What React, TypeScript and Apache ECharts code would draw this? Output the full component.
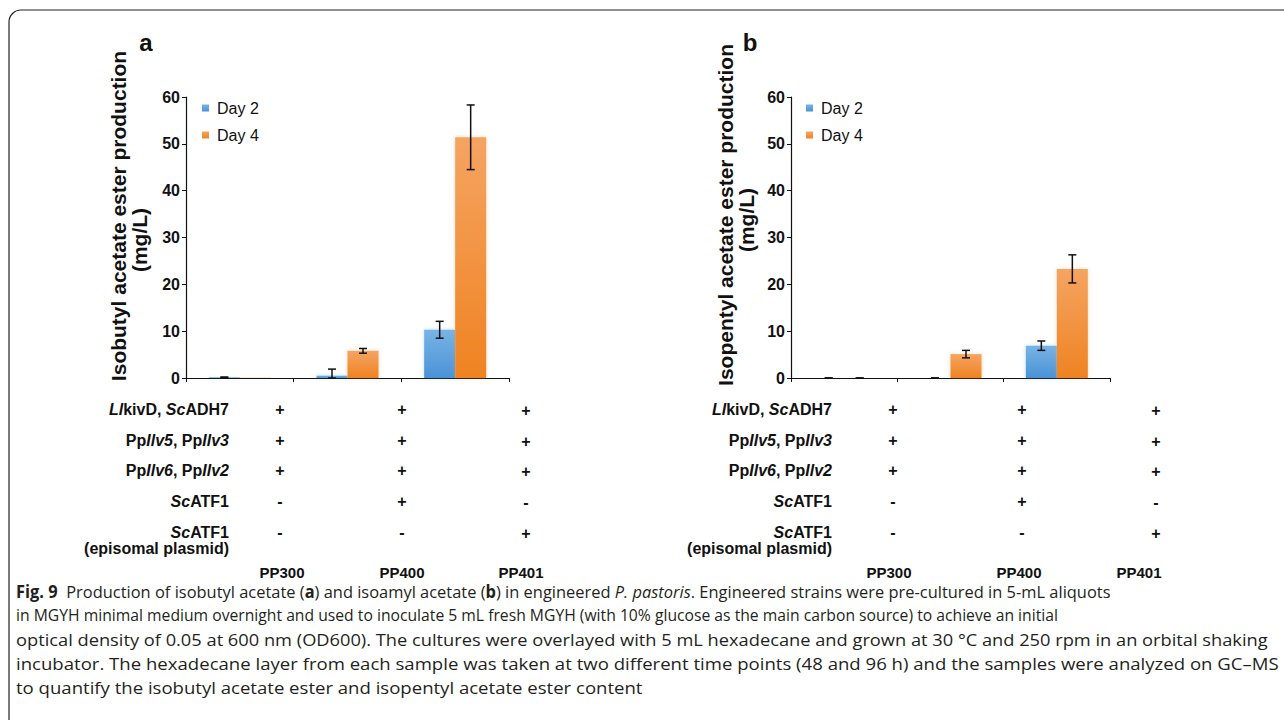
import React, { useEffect, useRef } from "react";
import * as echarts from "echarts";

// ---------- data ----------
const categories = ["PP300", "PP400", "PP401"];
const seriesNames = ["Day 2", "Day 4"];

// panel a: isobutyl acetate ester (mg/L)
const isobutylDay2 = [0.15, 0.5, 10.3];
const isobutylDay2Err = [0.05, 1.4, 1.8];
const isobutylDay4 = [0.05, 5.8, 51.4];
const isobutylDay4Err = [null, 0.5, 6.9];

// panel b: isopentyl acetate ester (mg/L)
const isopentylDay2 = [0, 0, 6.9];
const isopentylDay2Err = [0, 0, 1.0];
const isopentylDay4 = [0, 5.1, 23.3];
const isopentylDay4Err = [0, 0.8, 3.0];

const yTicks = { min: 0, max: 60, interval: 10 };

const rowLabels = [
  "{i|Ll}kivD, {i|Sc}ADH7",
  "Pp{i|Ilv5}, Pp{i|Ilv3}",
  "Pp{i|Ilv6}, Pp{i|Ilv2}",
  "{i|Sc}ATF1",
  "{i|Sc}ATF1",
];
const rowSubLabel = "(episomal plasmid)";
const rowMarks = [
  ["+", "+", "+"],
  ["+", "+", "+"],
  ["+", "+", "+"],
  ["-", "+", "-"],
  ["-", "-", "+"],
];

const yTitleA = "Isobutyl acetate ester production";
const yTitleB = "Isopentyl acetate ester production";
const yUnit = "(mg/L)";

const captionLines = [
  "{b|Fig. 9}  Production of isobutyl acetate ({b|a}) and isoamyl acetate ({b|b}) in engineered {i|P. pastoris}. Engineered strains were pre-cultured in 5-mL aliquots",
  "in MGYH minimal medium overnight and used to inoculate 5 mL fresh MGYH (with 10% glucose as the main carbon source) to achieve an initial",
  "optical density of 0.05 at 600 nm (OD600). The cultures were overlayed with 5 mL hexadecane and grown at 30 °C and 250 rpm in an orbital shaking",
  "incubator. The hexadecane layer from each sample was taken at two different time points (48 and 96 h) and the samples were analyzed on GC–MS",
  "to quantify the isobutyl acetate ester and isopentyl acetate ester content",
];
// horizontal fit of each caption line (style)
const captionScale = [0.967, 0.924, 1.075, 1.093, 1.091];

// ---------- styling ----------
const BAR_W = 31;
const FONT = "Liberation Sans, Arial, Helvetica, sans-serif";
const CAP_FONT = "Open Sans, Noto Sans, sans-serif";
const blueGrad = new echarts.graphic.LinearGradient(0, 0, 0, 1, [
  { offset: 0, color: "#78B4E6" },
  { offset: 1, color: "#4A92D6" },
]);
const orangeGrad = new echarts.graphic.LinearGradient(0, 0, 0, 1, [
  { offset: 0, color: "#F5A462" },
  { offset: 1, color: "#EF8322" },
]);

function errData(v2: number[], e2: (number | null)[], v4: number[], e4: (number | null)[]) {
  const out: any[] = [];
  v2.forEach((v, i) => {
    if (e2[i] !== null) out.push([i, v, e2[i], 0]);
  });
  v4.forEach((v, i) => {
    if (e4[i] !== null) out.push([i, v, e4[i], 1]);
  });
  return out;
}

function renderErr(params: any, api: any) {
  const cat = api.value(0);
  const v = api.value(1);
  const e = api.value(2);
  const s = api.value(3);
  const off = (s === 0 ? -1 : 1) * (BAR_W / 2);
  const top = api.coord([cat, v + e]);
  const bot = api.coord([cat, Math.max(0, v - e)]);
  const x = top[0] + off;
  const cw = 4;
  const st = { stroke: "#111", lineWidth: 1.5 };
  return {
    type: "group",
    children: [
      { type: "line", shape: { x1: x, y1: top[1], x2: x, y2: bot[1] }, style: st },
      { type: "line", shape: { x1: x - cw, y1: top[1], x2: x + cw, y2: top[1] }, style: st },
      { type: "line", shape: { x1: x - cw, y1: bot[1], x2: x + cw, y2: bot[1] }, style: st },
    ],
  };
}

function axisPair(gridIndex: number) {
  return {
    x: {
      type: "category",
      gridIndex,
      data: categories,
      axisLine: { lineStyle: { color: "#111", width: 1.2 } },
      axisTick: { show: true, length: 4, lineStyle: { color: "#111" } },
      axisLabel: { show: false },
    },
    y: {
      type: "value",
      gridIndex,
      ...yTicks,
      splitLine: { show: false },
      axisLine: { show: true, lineStyle: { color: "#111", width: 1.2 } },
      axisTick: { show: true, length: 4, lineStyle: { color: "#111" } },
      axisLabel: { fontFamily: FONT, fontWeight: "bold", fontSize: 16, color: "#111", margin: 6 },
    },
  };
}

function textEl(text: string, x: number, y: number, extra: any = {}) {
  return {
    type: "text",
    x,
    y,
    silent: true,
    style: {
      text,
      fontFamily: FONT,
      fontWeight: "bold",
      fontSize: 16,
      fill: "#111",
      textAlign: "right",
      textVerticalAlign: "middle",
      rich: {
        i: { fontStyle: "italic", fontWeight: "bold", fontFamily: FONT, fontSize: 16, fill: "#111" },
      },
      ...extra,
    },
  };
}

function tableEls(labelRight: number, markX: number[], ppX: number[]) {
  const rowsY = [409, 440, 470, 501, 532];
  const els: any[] = [];
  rowLabels.forEach((lab, r) => {
    els.push(textEl(lab, labelRight, rowsY[r]));
    rowMarks[r].forEach((m, c) => {
      els.push(textEl(m, markX[c], rowsY[r] + (c === 2 ? 1 : 0), { textAlign: "center", fontSize: 16 }));
    });
  });
  els.push(textEl(rowSubLabel, labelRight, 548));
  categories.forEach((c, i) => {
    els.push(textEl(c, ppX[i], 572, { textAlign: "center", fontSize: 15 }));
  });
  return els;
}

function yTitleEls(title: string, x1: number, y1: number, x2: number, y2: number) {
  const base = {
    fontFamily: FONT,
    fontWeight: "bold",
    fontSize: 21,
    fill: "#111",
    textAlign: "center",
    textVerticalAlign: "middle",
  };
  return [
    { type: "text", x: x1, y: y1, rotation: Math.PI / 2, silent: true, style: { ...base, text: title } },
    { type: "text", x: x2, y: y2, rotation: Math.PI / 2, silent: true, style: { ...base, text: yUnit } },
  ];
}

function legendCfg(left: number) {
  return {
    left,
    top: 100,
    padding: 0,
    orient: "vertical",
    itemWidth: 7,
    itemHeight: 7,
    itemGap: 11,
    icon: "rect",
    data: seriesNames,
    textStyle: { fontFamily: FONT, fontSize: 16, color: "#111", padding: [0, 0, 0, 3] },
  };
}

export default function App() {
  const ref = useRef<HTMLDivElement>(null);
  useEffect(() => {
    if (!ref.current) return;
    const chart = echarts.init(ref.current, null, { renderer: "svg" });
    const a = axisPair(0);
    const b = axisPair(1);
    const barCommon = { type: "bar", barWidth: BAR_W, barGap: "0%" };
    const blueStyle = { color: blueGrad, shadowBlur: 4, shadowColor: "rgba(90,160,220,0.35)" };
    const orangeStyle = { color: orangeGrad, shadowBlur: 4, shadowColor: "rgba(245,150,70,0.35)" };
    const option: any = {
      animation: false,
      backgroundColor: "#fff",
      grid: [
        { left: 186, top: 97, width: 323, height: 281 },
        { left: 791, top: 97, width: 319, height: 281 },
      ],
      xAxis: [a.x, b.x],
      yAxis: [a.y, b.y],
      legend: [legendCfg(202), legendCfg(806)],
      series: [
        { ...barCommon, name: seriesNames[0], xAxisIndex: 0, yAxisIndex: 0, data: isobutylDay2, itemStyle: blueStyle },
        { ...barCommon, name: seriesNames[1], xAxisIndex: 0, yAxisIndex: 0, data: isobutylDay4, itemStyle: orangeStyle },
        { ...barCommon, name: seriesNames[0], xAxisIndex: 1, yAxisIndex: 1, data: isopentylDay2, itemStyle: blueStyle },
        { ...barCommon, name: seriesNames[1], xAxisIndex: 1, yAxisIndex: 1, data: isopentylDay4, itemStyle: orangeStyle },
        {
          type: "custom",
          xAxisIndex: 0,
          yAxisIndex: 0,
          renderItem: renderErr,
          data: errData(isobutylDay2, isobutylDay2Err, isobutylDay4, isobutylDay4Err),
          encode: { x: 0, y: 1 },
          z: 5,
          silent: true,
        },
        {
          type: "custom",
          xAxisIndex: 1,
          yAxisIndex: 1,
          renderItem: renderErr,
          data: errData(isopentylDay2, isopentylDay2Err, isopentylDay4, isopentylDay4Err),
          encode: { x: 0, y: 1 },
          z: 5,
          silent: true,
        },
      ],
      graphic: [
        {
          type: "rect",
          silent: true,
          shape: { x: 9, y: 10, width: 1320, height: 730, r: 12 },
          style: { fill: "none", stroke: "#222", lineWidth: 1.2 },
        },
        { type: "text", x: 146, y: 42, silent: true, style: { text: "a", fontFamily: FONT, fontWeight: "bold", fontSize: 24, fill: "#111", textAlign: "center", textVerticalAlign: "middle" } },
        { type: "text", x: 750, y: 42, silent: true, style: { text: "b", fontFamily: FONT, fontWeight: "bold", fontSize: 24, fill: "#111", textAlign: "center", textVerticalAlign: "middle" } },
        ...yTitleEls(yTitleA, 118, 216, 139, 240),
        ...yTitleEls(yTitleB, 725, 215, 746, 220),
        ...tableEls(229, [280, 402, 526], [282, 402, 521]),
        ...tableEls(832, [893, 1022, 1156], [889, 1019, 1139]),
        ...captionLines.map((line, i) => ({
          type: "text",
          x: 16,
          y: 591 + i * 24,
          scaleX: captionScale[i],
          silent: true,
          style: {
            text: line,
            fontFamily: CAP_FONT,
            fontSize: 17,
            fill: "#231F20",
            textAlign: "left",
            textVerticalAlign: "middle",
            rich: {
              b: { fontWeight: "bold", fontFamily: CAP_FONT, fontSize: 17, fill: "#231F20" },
              i: { fontStyle: "italic", fontFamily: CAP_FONT, fontSize: 17, fill: "#231F20" },
            },
          },
        })),
      ],
    };
    chart.setOption(option);
    return () => chart.dispose();
  }, []);
  return <div ref={ref} style={{ position: "fixed", left: 0, top: 0, width: 1284, height: 720 }} />;
}
